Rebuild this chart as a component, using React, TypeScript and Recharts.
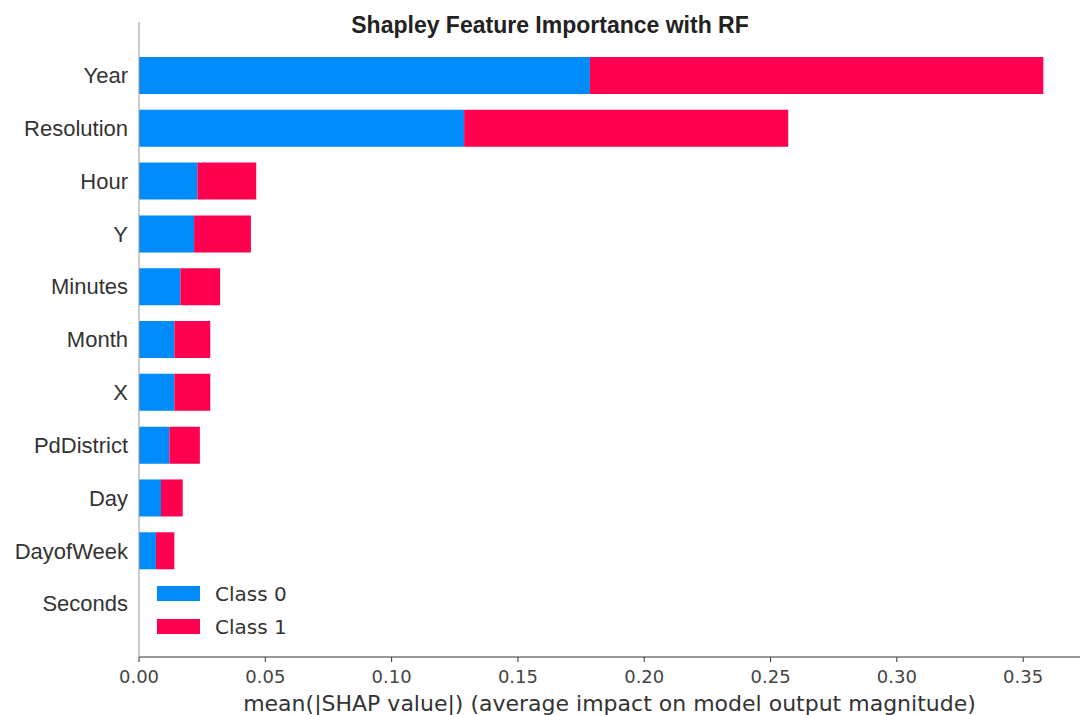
import React from "react";
import { BarChart, Bar, XAxis, YAxis, Legend, Label } from "recharts";

const features = [
  "Year",
  "Resolution",
  "Hour",
  "Y",
  "Minutes",
  "Month",
  "X",
  "PdDistrict",
  "Day",
  "DayofWeek",
  "Seconds",
];
const class0 = [0.1785, 0.1287, 0.0231, 0.0218, 0.0164, 0.014, 0.014, 0.012, 0.0087, 0.0067, 0];
const class1 = [0.1795, 0.1283, 0.0233, 0.0225, 0.0157, 0.0142, 0.0142, 0.0121, 0.0086, 0.0073, 0];
const xTicks = [0, 0.05, 0.1, 0.15, 0.2, 0.25, 0.3, 0.35];

const BLUE = "#008bfb";
const RED = "#ff0051";

const data = features.map((feature, i) => ({
  feature,
  c0: class0[i],
  c1: class1[i],
}));

function LegendBox({ payload }: any) {
  return (
    <div style={{ fontFamily: "'DejaVu Sans', sans-serif", fontSize: 20, color: "#333" }}>
      {(payload || []).map((p: any) => (
        <div key={p.value} style={{ display: "flex", alignItems: "center", height: 33 }}>
          <span style={{ width: 43, height: 15, background: p.color, marginRight: 15 }} />
          <span>{p.value}</span>
        </div>
      ))}
    </div>
  );
}

export default function App() {
  return (
    <div style={{ position: "absolute", left: 0, top: 0, width: 1081, height: 715, background: "#fff" }}>
      <div
        style={{
          position: "absolute",
          left: 0,
          top: 12,
          width: 1100,
          textAlign: "center",
          fontFamily: "'Liberation Sans', Arial, sans-serif",
          fontWeight: "bold",
          fontSize: 23,
          lineHeight: "26px",
          color: "#222",
          zIndex: 2,
        }}
      >
        Shapley Feature Importance with RF
      </div>
      <BarChart
        width={1081}
        height={715}
        data={data}
        layout="vertical"
        margin={{ top: 22, right: 1, left: 0, bottom: 0 }}
        barCategoryGap="15%"
      >
        <XAxis
          type="number"
          domain={[0, 0.3725]}
          ticks={xTicks}
          allowDataOverflow
          tickFormatter={(v: number) => v.toFixed(2)}
          height={58}
          tickSize={5}
          tickMargin={8}
          axisLine={{ stroke: "#333" }}
          tickLine={{ stroke: "#333" }}
          tick={{ fill: "#444", fontSize: 18, fontFamily: "'DejaVu Sans', sans-serif" }}
        >
          <Label
            value="mean(|SHAP value|) (average impact on model output magnitude)"
            position="insideBottom"
            offset={4}
            style={{ fill: "#333", fontSize: 22, fontFamily: "'DejaVu Sans', sans-serif" }}
          />
        </XAxis>
        <YAxis
          type="category"
          dataKey="feature"
          width={139}
          padding={{ top: 27, bottom: 27 }}
          tickLine={false}
          tickSize={6}
          tickMargin={5}
          axisLine={{ stroke: "#999" }}
          tick={{ fill: "#333", fontSize: 22, fontFamily: "'Liberation Sans', Arial, sans-serif" }}
          interval={0}
        />
        <Legend
          layout="vertical"
          align="center"
          verticalAlign="middle"
          content={<LegendBox />}
          wrapperStyle={{ position: "absolute", left: 157, top: 577, width: 200 }}
        />
        <Bar dataKey="c0" name="Class 0" stackId="s" fill={BLUE} isAnimationActive={false} />
        <Bar dataKey="c1" name="Class 1" stackId="s" fill={RED} isAnimationActive={false} />
      </BarChart>
    </div>
  );
}
